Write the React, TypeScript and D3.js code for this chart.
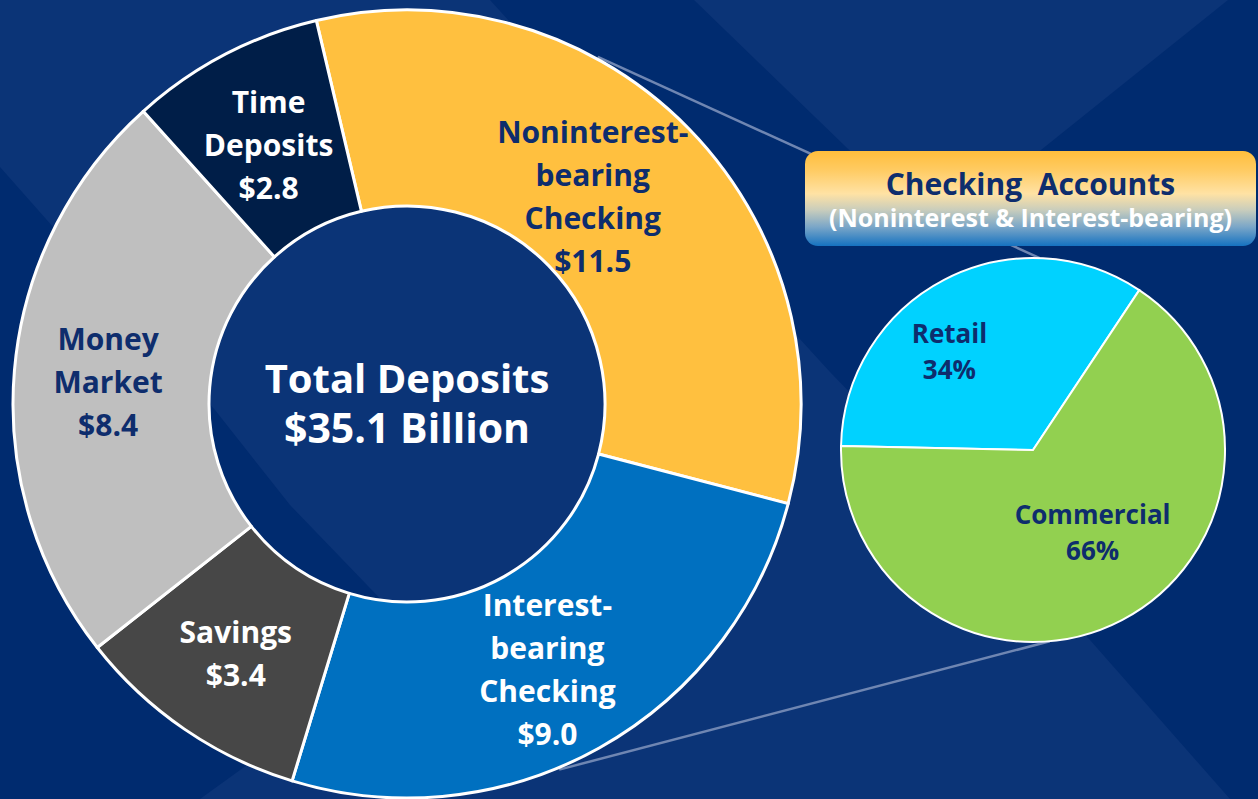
import React from 'react';
import * as d3 from 'd3';

// ---------- data ----------
const depositCategories = ['Noninterest-bearing Checking', 'Interest-bearing Checking', 'Savings', 'Money Market', 'Time Deposits'];
const depositValues = [11.5, 9.0, 3.4, 8.4, 2.8];
const depositLabelLines = [
  ['Noninterest-', 'bearing', 'Checking'],
  ['Interest-', 'bearing', 'Checking'],
  ['Savings'],
  ['Money', 'Market'],
  ['Time', 'Deposits'],
];
const depositTotalLines = ['Total Deposits', '$35.1 Billion'];

const checkingCategories = ['Retail', 'Commercial'];
const checkingValues = [34, 66];
const checkingTitle = 'Checking\u00a0\u00a0Accounts';
const checkingSubtitle = '(Noninterest & Interest-bearing)';

// ---------- styles ----------
const depositColors = ['#FFC03F', '#0070C0', '#474747', '#BFBFBF', '#001E48'];
const depositTextColors = ['#0E2D6D', '#FFFFFF', '#FFFFFF', '#0E2D6D', '#FFFFFF'];
const depositLabelNudge = [[-26, 0], [-4, 7], [-4, 5], [-4, 3], [-1, 3]];
const checkingColors = ['#00D2FF', '#92D050'];
const checkingLabelNudge = [[-28, 8], [4, -23]];
const NAVY = '#0E2D6D';
const FONT = '"Open Sans", "Noto Sans", sans-serif';

const W = 1258;
const H = 799;
const donut = { cx: 407, cy: 404, r0: 198, r1: 394 };
const pie = { cx: 1033, cy: 450, r: 192 };
const toRad = (deg: number) => (deg * Math.PI) / 180;

export default function App() {
  const total = d3.sum(depositValues);
  const donutPie = d3.pie<number>().sort(null).value((d) => d).startAngle(toRad(-13.3)).endAngle(toRad(-13.3) + 2 * Math.PI);
  const donutArcs = donutPie(depositValues);
  const donutArc = d3.arc<d3.PieArcDatum<number>>().innerRadius(donut.r0).outerRadius(donut.r1);
  const labelArc = d3.arc<d3.PieArcDatum<number>>().innerRadius(donut.r0).outerRadius(donut.r1);

  const rStart = toRad(-88.8);
  const checkPie = d3.pie<number>().sort(null).value((d) => d).startAngle(rStart).endAngle(rStart + 2 * Math.PI);
  const checkArcs = checkPie(checkingValues);
  const checkArc = d3.arc<d3.PieArcDatum<number>>().innerRadius(0).outerRadius(pie.r);
  const checkLabelArc = d3.arc<d3.PieArcDatum<number>>().innerRadius(pie.r * 0.55).outerRadius(pie.r * 0.7);

  const polar = (c: { cx: number; cy: number }, r: number, deg: number) => [c.cx + r * Math.sin(toRad(deg)), c.cy - r * Math.cos(toRad(deg))];
  const conn1 = [polar(donut, donut.r1 + 2, 28.8), polar(pie, pie.r, 2)];
  const conn2 = [polar(donut, donut.r1 + 2, 157.4), polar(pie, pie.r, 175)];

  const box = { x: 805, y: 151, w: 451, h: 95 };

  const lineH = 43;
  const fs = 30;

  return (
    <svg width={W} height={H} style={{ position: 'absolute', left: 0, top: 0 }} fontFamily={FONT}>
      <defs>
        <linearGradient id="titleGrad" x1="0" y1="0" x2="0" y2="1">
          <stop offset="0" stopColor="#FFBE3C" />
          <stop offset="0.2" stopColor="#FFCB62" />
          <stop offset="0.45" stopColor="#FFE2A4" />
          <stop offset="0.62" stopColor="#C9CDBC" />
          <stop offset="0.8" stopColor="#7AA6C8" />
          <stop offset="1" stopColor="#1572C0" />
        </linearGradient>
      </defs>
      {/* background */}
      <rect x={0} y={0} width={W} height={H} fill="#002B6F" />
      <polygon points="0,0 490,0 830,372 1090,640 1230,799 200,799 420,640 290,505 215,410 0,167" fill="#0B3477" />
      <polygon points="694,0 1228,0 936,234" fill="#0B3477" />

      {/* connectors */}
      <line x1={conn1[0][0]} y1={conn1[0][1]} x2={conn1[1][0]} y2={conn1[1][1]} stroke="#6F86B2" strokeWidth={2.5} />
      <line x1={conn2[0][0]} y1={conn2[0][1]} x2={conn2[1][0]} y2={conn2[1][1]} stroke="#6F86B2" strokeWidth={2.5} />

      {/* donut */}
      <g transform={`translate(${donut.cx},${donut.cy})`}>
        {donutArcs.map((a, i) => (
          <path key={depositCategories[i]} d={donutArc(a) || ''} fill={depositColors[i]} stroke="#FFFFFF" strokeWidth={3} strokeLinejoin="round" />
        ))}
        {donutArcs.map((a, i) => {
          const [x, y] = labelArc.centroid(a);
          const lines = [...depositLabelLines[i], `$${depositValues[i].toFixed(1)}`];
          const n = lines.length;
          const px = x + depositLabelNudge[i][0];
          const py = y + depositLabelNudge[i][1];
          return (
            <text key={'l' + i} textAnchor="middle" fill={depositTextColors[i]} fontWeight={700} fontSize={fs}>
              {lines.map((t, j) => (
                <tspan key={j} x={px} y={py + (j - (n - 1) / 2) * lineH + fs * 0.36}>
                  {t}
                </tspan>
              ))}
            </text>
          );
        })}
        <text textAnchor="middle" fill="#FFFFFF" fontWeight={700} fontSize={40}>
          <tspan x={0} y={-11}>{depositTotalLines[0]}</tspan>
          <tspan x={0} y={39} fontSize={41}>{depositTotalLines[1]}</tspan>
        </text>
        <title>{`Total ${total.toFixed(1)}`}</title>
      </g>

      {/* checking pie */}
      <g transform={`translate(${pie.cx},${pie.cy})`}>
        {checkArcs.map((a, i) => (
          <path key={checkingCategories[i]} d={checkArc(a) || ''} fill={checkingColors[i]} stroke="#FFFFFF" strokeWidth={2} />
        ))}
        {checkArcs.map((a, i) => {
          const [x, y] = checkLabelArc.centroid(a);
          const px = x + checkingLabelNudge[i][0];
          const py = y + checkingLabelNudge[i][1];
          return (
            <text key={'c' + i} textAnchor="middle" fill={NAVY} fontWeight={700} fontSize={26}>
              <tspan x={px} y={py - 18 + 9}>{checkingCategories[i]}</tspan>
              <tspan x={px} y={py + 18 + 9}>{`${checkingValues[i]}%`}</tspan>
            </text>
          );
        })}
      </g>

      {/* title box */}
      <rect x={box.x} y={box.y} width={box.w} height={box.h} rx={13} fill="url(#titleGrad)" />
      <text x={box.x + box.w / 2} y={box.y + 44} textAnchor="middle" fill={NAVY} fontWeight={700} fontSize={30}>
        {checkingTitle}
      </text>
      <text x={box.x + box.w / 2} y={box.y + 76} textAnchor="middle" fill="#FFFFFF" fontWeight={700} fontSize={25}>
        {checkingSubtitle}
      </text>
    </svg>
  );
}
